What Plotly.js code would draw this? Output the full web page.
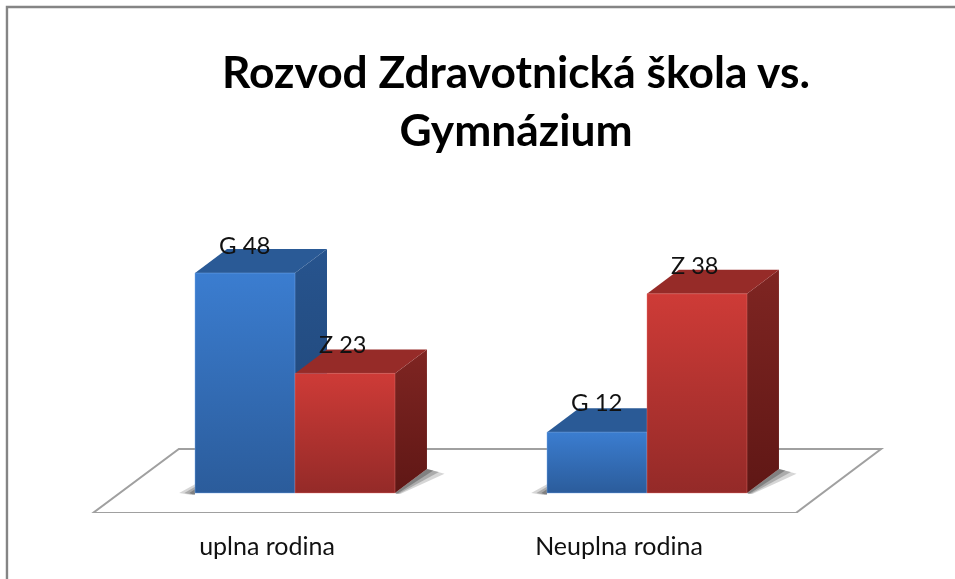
<!DOCTYPE html>
<html>
<head>
<meta charset="utf-8">
<script src="https://cdn.plot.ly/plotly-3.0.1.min.js"></script>
<style>html,body{margin:0;padding:0;background:#fff;overflow:hidden}#c{width:955px;height:579px;filter:blur(0.45px)}</style>
</head>
<body>
<div id="c"></div>
<script>
// Data. Bar heights are what is drawn; the printed labels are the chart's own text.
const categories = ["uplna rodina", "Neuplna rodina"];
const heightsG = [42.3, 11.7];
const heightsZ = [23, 38.3];
const labelsG = ["G 48", "G 12"];
const labelsZ = ["Z 23", "Z 38"];
const titleText = "Rozvod Zdravotnická škola vs.<br>Gymnázium";

// Look and geometry
const FONT = "Lato, Carlito, 'Open Sans', sans-serif";
const W = 0.284, DX = 0.0909, DY = 4.615;
const styleG = {flat:"#34689f", front:[[0,"#2b5c9b"],[1,"#3b7dd0"]], top:"#2a5a96", side:[[0,"#1f4474"],[1,"#27548e"]], edge:"rgba(120,170,235,0.45)"};
const styleZ = {flat:"#b03530", front:[[0,"#942a28"],[1,"#ce3b37"]], top:"#962b28", side:[[0,"#5f1715"],[1,"#7f2522"]], edge:"rgba(235,120,115,0.4)"};

function poly(xs, ys, fill, grad, edge){
  const t = {type:"scatter", mode:"lines", x:xs.concat(xs[0]), y:ys.concat(ys[0]), fill:"toself",
    line:edge ? {width:1, color:edge} : {width:0, color:"rgba(0,0,0,0)"}, hoverinfo:"skip", showlegend:false, cliponaxis:false};
  if(grad){ t.fillgradient = {type:"vertical", colorscale:grad}; } else { t.fillcolor = fill; }
  return t;
}
function box(x0, h, st){
  const x1 = x0 + W;
  return [
    poly([x1, x1+DX, x1+DX, x1],[0, DY, h+DY, h], null, st.side),
    poly([x0, x1, x1+DX, x0+DX],[h, h, h+DY, h+DY], st.top),
    poly([x0, x1, x1, x0],[0, 0, h, h], null, st.front, st.edge)
  ];
}

const traces = [
  {type:"bar", name:"G", x:[0,1], y:heightsG, width:W, offset:-W, marker:{color:styleG.flat}, hoverinfo:"skip", showlegend:false},
  {type:"bar", name:"Z", x:[0,1], y:heightsZ, width:W, offset:0, marker:{color:styleZ.flat}, hoverinfo:"skip", showlegend:false}
];
categories.forEach((c,i)=>{
  traces.push(...box(i-W, heightsG[i], styleG));
  traces.push(...box(i, heightsZ[i], styleZ));
});

const shadow = (xs,ys,a)=>({type:"path", xref:"x", yref:"y", layer:"below", fillcolor:"rgba(50,50,50,"+a+")", line:{width:0},
  path:"M"+xs.map((v,k)=>v+","+ys[k]).join("L")+"Z"});
const shapes = [
  {type:"path", xref:"x", yref:"y", layer:"below", fillcolor:"#fff", line:{color:"#a0a0a0", width:2},
   path:"M-0.574,-3.846L1.423,-3.846L1.665,8.46L-0.33,8.46Z"},
  {type:"path", xref:"paper", yref:"paper", layer:"above", line:{color:"#858585", width:2.4},
   path:"M0.0073,-0.2L0.0073,0.9864L1.1,0.9864"}
];
categories.forEach((c,i)=>{
  const L = i-W, R = i+W;
  [[0.045,1.7,0.2],[0.03,1.2,0.26],[0.016,0.7,0.34]].forEach(([dx,dy,a])=>{
    shapes.push(shadow([L-dx,L,L,L-dx*0.4],[0,dy,-0.3,-0.3],a));
  });
  [[0.05,0.9,0.2],[0.034,0.6,0.26],[0.018,0.3,0.34]].forEach(([dx,dy,a])=>{
    shapes.push(shadow([R,R+DX,R+DX+dx,R+dx*0.3],[0,DY,DY-dy,-0.2],a));
  });
});

const annotations = [];
const shifts = [29, 31];
categories.forEach((c,i)=>{
  annotations.push({x:i-W/2, y:heightsG[i], xref:"x", yref:"y", text:labelsG[i], showarrow:false, yanchor:"middle", yshift:shifts[i],
    font:{family:FONT, size:24, color:"#111"}});
  annotations.push({x:i+W/2, y:heightsZ[i], xref:"x", yref:"y", text:labelsZ[i], showarrow:false, yanchor:"middle", yshift:29, xshift:-2,
    font:{family:FONT, size:23.5, color:"#111"}});
});

const layout = {
  width:955, height:579, margin:{l:0,r:0,t:0,b:66,pad:0},
  paper_bgcolor:"#fff", plot_bgcolor:"#fff", showlegend:false,
  barmode:"overlay",
  title:{text:titleText, x:516/955, xanchor:"center", xref:"paper", y:1-88/579, yanchor:"top", yref:"container", font:{family:FONT, size:44.3, color:"#000", weight:700}},
  xaxis:{range:[-295/352, 660/352], tickmode:"array", tickvals:categories.map((c,i)=>i-28/352), ticktext:categories,
    showgrid:false, zeroline:false, showline:false, ticks:"", ticklabelstandoff:16, tickfont:{family:FONT, size:25, color:"#111"}, fixedrange:true},
  yaxis:{range:[-3.846, 94.8], visible:false, fixedrange:true},
  shapes, annotations
};
Plotly.newPlot("c", traces, layout, {displayModeBar:false, staticPlot:true});
</script>
</body>
</html>
